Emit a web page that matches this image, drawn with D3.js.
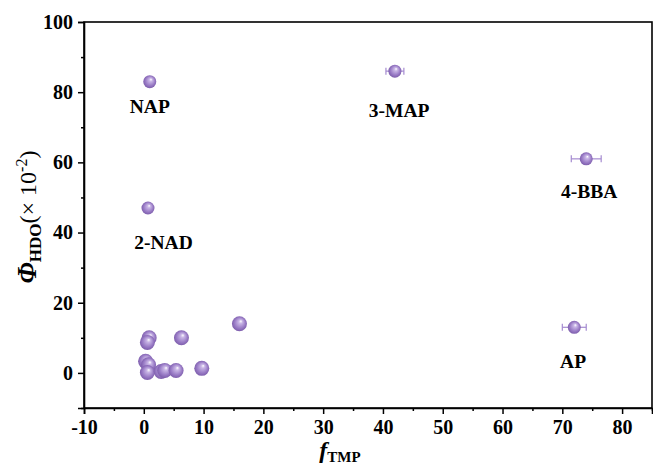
<!DOCTYPE html>
<html>
<head>
<meta charset="utf-8">
<script src="https://cdn.jsdelivr.net/npm/d3@7"></script>
<style>
  body { margin: 0; background: #fff; }
  svg { display: block; font-family: "Liberation Serif", "Times New Roman", serif; }
</style>
</head>
<body>
<div id="chart"></div>
<script>
// data
const fTmp   = [1.0, 0.7, 42, 74, 72, 16, 0.9, 0.6, 6.3, 0.3, 0.8, 0.6, 2.9, 3.5, 5.4, 9.7];
const phiHdo = [83, 47, 86, 61, 13, 14, 10, 8.7, 10, 3.3, 2.3, 0.1, 0.4, 0.7, 0.7, 1.3];
const xErr   = [0, 0, 1.5, 2.5, 2, 0, 0, 0, 0, 0, 0, 0, 0, 0, 0, 0];

const labels  = ['NAP', '2-NAD', '3-MAP', '4-BBA', 'AP'];
const labelX  = [1.0, 3.3, 42.7, 74.5, 71.8];
const labelY  = [74.1, 35.3, 72.9, 49.9, 1.4];

const xTicks = d3.range(-10, 81, 10);
const yTicks = d3.range(0, 101, 20);

const width = 653, height = 468;
const margin = { top: 22, right: 1, bottom: 60, left: 84 };

const svg = d3.select('#chart').append('svg')
  .attr('width', width)
  .attr('height', height);

const x = d3.scaleLinear().domain([-10, 85]).range([margin.left, width - margin.right]);
const y = d3.scaleLinear().domain([-10, 100]).range([height - margin.bottom, margin.top]);

// sphere gradient
const defs = svg.append('defs');
const grad = defs.append('radialGradient')
  .attr('id', 'ball')
  .attr('cx', '0.5').attr('cy', '0.5').attr('r', '0.55')
  .attr('fx', '0.6').attr('fy', '0.32');
grad.append('stop').attr('offset', '0%').attr('stop-color', '#ffffff');
grad.append('stop').attr('offset', '22%').attr('stop-color', '#c9b6e6');
grad.append('stop').attr('offset', '65%').attr('stop-color', '#9a7cc6');
grad.append('stop').attr('offset', '100%').attr('stop-color', '#7656a6');

// frame
svg.append('rect')
  .attr('x', x(-10)).attr('y', y(100))
  .attr('width', x(85) - x(-10)).attr('height', y(-10) - y(100))
  .attr('fill', 'none').attr('stroke', '#000').attr('stroke-width', 1.6);

// axes (plain hyphen for negatives, like the original)
const fmt = d => String(d);
svg.append('g')
  .attr('transform', `translate(0,${y(-10)})`)
  .call(d3.axisBottom(x).tickValues(xTicks).tickSize(6).tickPadding(6).tickFormat(fmt));
svg.append('g')
  .attr('transform', `translate(0,${y(-10)})`)
  .call(d3.axisBottom(x).tickValues(d3.range(-5, 86, 10)).tickSize(3).tickFormat(''))
  .select('.domain').remove();

svg.append('g')
  .attr('transform', `translate(${x(-10)},0)`)
  .call(d3.axisLeft(y).tickValues(yTicks).tickSize(6).tickPadding(5).tickFormat(fmt));
svg.append('g')
  .attr('transform', `translate(${x(-10)},0)`)
  .call(d3.axisLeft(y).tickValues(d3.range(-10, 101, 20)).tickSize(3).tickFormat(''))
  .select('.domain').remove();

svg.selectAll('.domain').attr('stroke-width', 1.6);
svg.selectAll('.tick line').attr('stroke-width', 1.5);
svg.selectAll('.tick text')
  .attr('font-family', '"Liberation Serif", serif')
  .attr('font-weight', 'bold')
  .attr('font-size', 20)
  .attr('fill', '#000');

// error bars
const pts = fTmp.map((f, i) => ({ f, p: phiHdo[i], e: xErr[i] }));
const eb = svg.append('g').attr('stroke', '#a58bd0').attr('stroke-width', 1.2);
pts.filter(d => d.e > 0).forEach(d => {
  eb.append('line').attr('x1', x(d.f - d.e)).attr('x2', x(d.f + d.e)).attr('y1', y(d.p)).attr('y2', y(d.p));
  [d.f - d.e, d.f + d.e].forEach(v => {
    eb.append('line').attr('x1', x(v)).attr('x2', x(v)).attr('y1', y(d.p) - 3.5).attr('y2', y(d.p) + 3.5);
  });
});

// spheres
svg.append('g').selectAll('circle')
  .data(pts)
  .join('circle')
  .attr('cx', d => x(d.f))
  .attr('cy', d => y(d.p))
  .attr('r', (d, i) => i < 5 ? 6.5 : 7.5)
  .attr('fill', 'url(#ball)');

// compound labels
svg.append('g').selectAll('text')
  .data(labels)
  .join('text')
  .attr('x', (d, i) => x(labelX[i]))
  .attr('y', (d, i) => y(labelY[i]))
  .attr('text-anchor', 'middle')
  .attr('font-weight', 'bold')
  .attr('font-size', 19.5)
  .text(d => d);

// axis titles
const xt = svg.append('text')
  .attr('x', 340).attr('y', 458)
  .attr('text-anchor', 'middle')
  .attr('font-weight', 'bold');
xt.append('tspan').attr('font-style', 'italic').attr('font-size', 24).text('f');
xt.append('tspan').attr('font-size', 15).attr('dy', 4).text('TMP');

const yt = svg.append('text')
  .attr('transform', `translate(36,217) rotate(-90)`)
  .attr('text-anchor', 'middle')
  .attr('font-weight', 'bold');
yt.append('tspan').attr('font-style', 'italic').attr('font-size', 27).text('Φ');
yt.append('tspan').attr('font-size', 17).attr('dy', 5).text('HDO');
yt.append('tspan').attr('font-size', 24).attr('font-weight', 'normal').attr('dy', -5).text('(× 10');
yt.append('tspan').attr('font-size', 16).attr('font-weight', 'normal').attr('dy', -9).text('-2');
yt.append('tspan').attr('font-size', 24).attr('font-weight', 'normal').attr('dy', 9).text(')');
</script>
</body>
</html>
